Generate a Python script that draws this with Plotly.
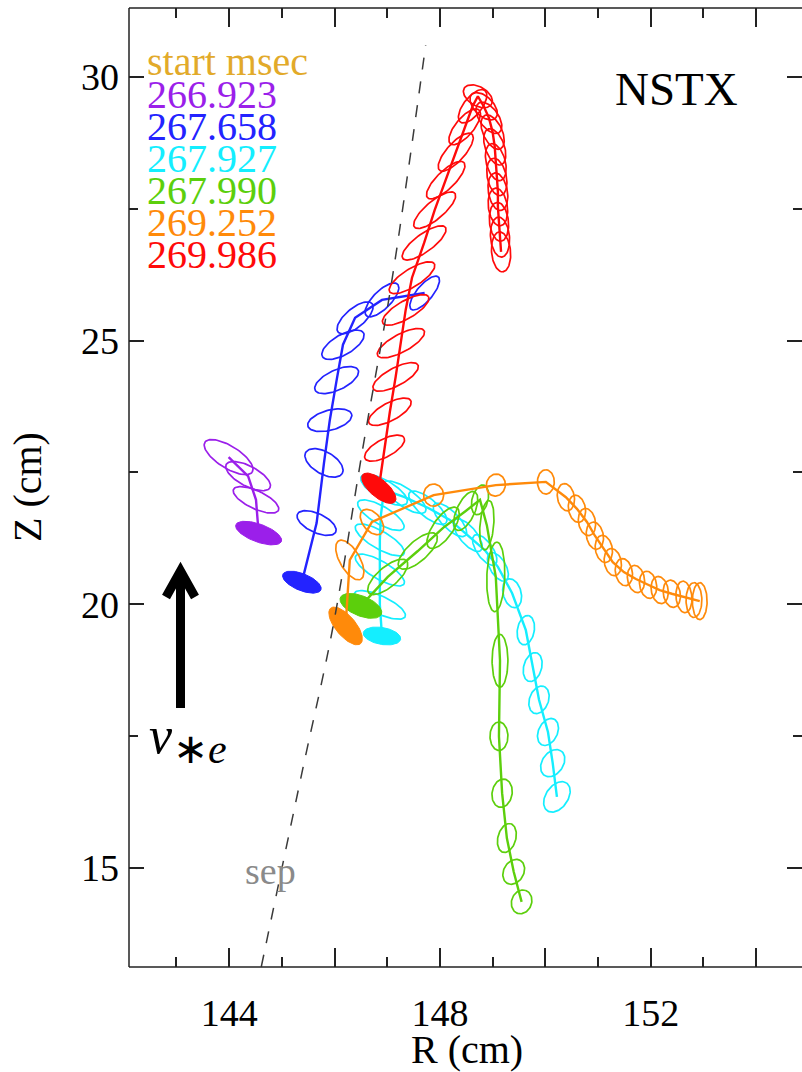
import numpy as np
import plotly.graph_objects as go

# ---------------- data (R, Z in cm; ellipse semi-axes a, b in cm; tilt in deg) ----------------
start_times = ["266.923", "267.658", "267.927", "267.990", "269.252", "269.986"]
series_colors = ["#9B1FEA", "#2323FF", "#14EEFF", "#5CCF0C", "#FF8A0A", "#FF0A0A"]

p_R = [144.56, 144.51, 144.36, 143.99]
p_Z = [21.35, 21.98, 22.43, 22.79]
p_a = [0.46, 0.47, 0.47, 0.53]
p_b = [0.17, 0.17, 0.19, 0.21]
p_ang = [-20, -25, -28, -32]

bl_R = [145.38, 145.66, 145.80, 145.91, 146.04, 146.16, 146.39, 146.90, 147.71]
bl_Z = [20.42, 21.54, 22.68, 23.49, 24.25, 24.92, 25.43, 25.77, 25.90]
bl_a = [0.39, 0.40, 0.40, 0.43, 0.45, 0.45, 0.42, 0.42, 0.40]
bl_b = [0.16, 0.18, 0.21, 0.19, 0.19, 0.19, 0.18, 0.17, 0.15]
bl_ang = [-22, -25, -30, 15, 25, 30, 40, 45, 50]

cy_R = [146.90, 146.86, 146.86, 146.86, 146.88, 146.94, 147.33, 147.77, 148.19, 148.53,
        148.85, 149.10, 149.37, 149.63, 149.76, 149.88, 150.05, 150.14, 150.22]
cy_Z = [19.40, 19.99, 20.65, 21.22, 21.69, 22.17, 22.03, 21.83, 21.60, 21.31,
        21.03, 20.71, 20.21, 19.51, 18.81, 18.19, 17.58, 16.99, 16.35]
cy_a = [0.36, 0.53, 0.53, 0.53, 0.50, 0.50, 0.48, 0.45, 0.42, 0.38,
        0.34, 0.30, 0.28, 0.28, 0.28, 0.27, 0.27, 0.28, 0.32]
cy_b = [0.16, 0.17, 0.17, 0.17, 0.17, 0.18, 0.17, 0.17, 0.16, 0.16,
        0.15, 0.15, 0.17, 0.16, 0.17, 0.18, 0.18, 0.20, 0.21]
cy_ang = [-10, -25, -30, -30, -30, -30, -35, -40, -45, -50,
          -55, -60, -75, 80, 75, 70, 65, 55, 55]

g_R = [146.50, 147.01, 147.58, 148.06, 148.49, 148.76, 148.89, 149.06, 149.14, 149.12, 149.18, 149.27, 149.40, 149.55]
g_Z = [19.97, 20.52, 21.01, 21.45, 21.77, 21.98, 21.50, 20.52, 18.93, 17.50, 16.42, 15.57, 14.93, 14.36]
g_a = [0.42, 0.47, 0.47, 0.46, 0.40, 0.29, 0.47, 0.66, 0.50, 0.27, 0.27, 0.28, 0.25, 0.23]
g_b = [0.19, 0.19, 0.19, 0.19, 0.17, 0.15, 0.13, 0.17, 0.15, 0.17, 0.19, 0.17, 0.19, 0.19]
g_ang = [-22, 40, 42, 55, 65, 75, 85, 88, 90, 90, 80, 75, 60, 70]

o_R = [146.21, 146.29, 146.71, 147.88, 149.06, 150.01, 150.39, 150.60, 150.79, 150.94,
       151.11, 151.28, 151.49, 151.72, 151.95, 152.17, 152.40, 152.63, 152.82, 152.93]
o_Z = [19.59, 20.84, 21.56, 22.07, 22.26, 22.32, 22.03, 21.81, 21.56, 21.30,
       21.05, 20.80, 20.61, 20.48, 20.37, 20.27, 20.20, 20.14, 20.08, 20.06]
o_a = [0.44, 0.42, 0.28, 0.21, 0.21, 0.23, 0.26, 0.26, 0.26, 0.26,
       0.26, 0.26, 0.26, 0.26, 0.26, 0.26, 0.26, 0.30, 0.33, 0.35]
o_b = [0.19, 0.19, 0.17, 0.19, 0.18, 0.16, 0.16, 0.16, 0.16, 0.16,
       0.16, 0.16, 0.16, 0.16, 0.16, 0.16, 0.16, 0.15, 0.15, 0.14]
o_ang = [-50, -60, -50, 90, 80, 90, 100, 100, 100, 100,
         100, 100, 100, 100, 100, 100, 100, 95, 90, 90]

rd_R = [146.84, 146.95, 147.05, 147.16, 147.26, 147.35, 147.47, 147.70, 147.90, 148.11, 148.30, 148.47, 148.62,
        148.72, 148.83, 148.93, 149.00, 149.04, 149.06, 149.08, 149.10, 149.10, 149.12, 149.14, 149.16]
rd_Z = [22.20, 22.96, 23.65, 24.31, 24.95, 25.58, 26.19, 26.85, 27.47, 28.04, 28.57, 29.05, 29.44,
        29.63, 29.44, 29.22, 28.95, 28.67, 28.38, 28.10, 27.82, 27.53, 27.25, 26.96, 26.68]
rd_a = [0.40, 0.42, 0.45, 0.48, 0.50, 0.50, 0.50, 0.50, 0.50, 0.48, 0.46, 0.42, 0.38,
        0.30, 0.32, 0.34, 0.35, 0.36, 0.36, 0.36, 0.36, 0.36, 0.37, 0.38, 0.38]
rd_b = [0.17, 0.17, 0.17, 0.17, 0.17, 0.17, 0.17, 0.17, 0.17, 0.17, 0.17, 0.17, 0.17,
        0.18, 0.18, 0.18, 0.18, 0.18, 0.18, 0.18, 0.18, 0.18, 0.18, 0.18, 0.18]
rd_ang = [-40, 28, 28, 28, 28, 30, 32, 36, 40, 44, 48, 50, 52,
          -30, -45, -55, -65, -70, -75, -78, -80, -82, -84, -85, -85]

sep_R = [144.61, 145.38, 145.97, 146.54, 147.05, 147.38, 147.73]
sep_Z = [13.13, 16.80, 19.57, 22.98, 25.90, 28.10, 30.60]

x_tickvals = [144, 146, 148, 150, 152, 154]
x_ticktext = ["144", "", "148", "", "152", ""]
y_tickvals = [15, 20, 25, 30]
y_ticktext = ["15", "20", "25", "30"]

series = [
    (p_R, p_Z, p_a, p_b, p_ang),
    (bl_R, bl_Z, bl_a, bl_b, bl_ang),
    (cy_R, cy_Z, cy_a, cy_b, cy_ang),
    (g_R, g_Z, g_a, g_b, g_ang),
    (o_R, o_Z, o_a, o_b, o_ang),
    (rd_R, rd_Z, rd_a, rd_b, rd_ang),
]

# ---------------- layout geometry ----------------
W, H = 802, 1072
ML, MR, MT, MB = 129, 0, 8, 105
PW, PH = W - ML - MR, H - MT - MB
X_RANGE = [142.10, 142.10 + PW / 52.7]
Y_RANGE = [31.454 - (H - MB) / 52.76, 31.454 - MT / 52.76]
SERIF = "Liberation Serif"


def ellipse(R, Z, a, b, ang, n=80):
    t = np.linspace(0, 2 * np.pi, n)
    th = np.deg2rad(ang)
    x = R + a * np.cos(th) * np.cos(t) - b * np.sin(th) * np.sin(t)
    y = Z + a * np.sin(th) * np.cos(t) + b * np.cos(th) * np.sin(t)
    return list(x), list(y)


fig = go.Figure()

for (R, Z, A, B, ANG), col in zip(series, series_colors):
    ex, ey = [], []
    for i in range(1, len(R)):
        x, y = ellipse(R[i], Z[i], A[i], B[i], ANG[i])
        ex += x + [None]
        ey += y + [None]
    fig.add_trace(go.Scatter(x=ex, y=ey, mode="lines", line=dict(color=col, width=1.7),
                             hoverinfo="skip", showlegend=False))
    fig.add_trace(go.Scatter(x=R, y=Z, mode="lines", line=dict(color=col, width=2.4),
                             hoverinfo="skip", showlegend=False))
    fx, fy = ellipse(R[0], Z[0], A[0], B[0], ANG[0])
    fig.add_trace(go.Scatter(x=fx, y=fy, mode="lines", fill="toself", fillcolor=col,
                             line=dict(color=col, width=1), hoverinfo="skip", showlegend=False))

fig.add_trace(go.Scatter(x=sep_R, y=sep_Z, mode="lines", line=dict(color="#3a3a3a", width=1.5, dash="12px,12px",
                         shape="spline"), hoverinfo="skip", showlegend=False))


def px2paper(x, y):
    return (x - ML) / PW, (H - MB - y) / PH


def text_ann(txt, xpx, base_py, size, color, xanchor="left", family=SERIF, bg=None):
    yb = base_py + 0.216 * size + 1
    xp, yp = px2paper(xpx, yb)
    d = dict(text=txt, x=xp, y=yp, xref="paper", yref="paper", xanchor=xanchor, yanchor="bottom",
             showarrow=False, font=dict(family=family, size=size, color=color), borderpad=0)
    if bg:
        d["bgcolor"] = bg
    return d


anns = []
anns.append(text_ann("start msec", 146, 75, 40, "#E2AA2A"))
for k, (t, col) in enumerate(zip(start_times, series_colors)):
    anns.append(text_ann(t, 146, 108.3 + 32.0 * k, 40, col))
anns.append(text_ann("NSTX", 676, 105, 47, "black", xanchor="center"))
anns.append(text_ann("R (cm)", 467, 1063, 40, "black", xanchor="center"))
anns.append(text_ann("sep", 270, 884, 38, "#8a8a8a", xanchor="center"))
anns.append(text_ann("<i>v</i>", 161, 753, 52, "black", xanchor="center"))
anns.append(text_ann("∗<i>e</i>", 172, 763, 42, "black", xanchor="left"))
zx, zy = px2paper(28, 487)
anns.append(dict(text="Z (cm)", x=zx, y=zy, xref="paper", yref="paper", xanchor="center", yanchor="middle",
                 textangle=-90, showarrow=False, font=dict(family=SERIF, size=40, color="black")))

shapes = []
LC = "#222222"
# frame spines (left, top, bottom)
shapes.append(dict(type="line", xref="paper", yref="paper", x0=0, x1=0, y0=0, y1=1, line=dict(color=LC, width=1.5)))
shapes.append(dict(type="line", xref="paper", yref="paper", x0=0, x1=1.02, y0=1, y1=1, line=dict(color=LC, width=1.5)))
shapes.append(dict(type="line", xref="paper", yref="paper", x0=0, x1=1.02, y0=0, y1=0, line=dict(color=LC, width=1.5)))
# v_*e arrow
ax0, ay0 = px2paper(180.5, 708)
ax1, ay1 = px2paper(180.5, 576)
shapes.append(dict(type="line", xref="paper", yref="paper", x0=ax0, y0=ay0, x1=ax1, y1=ay1,
                   line=dict(color="black", width=9)))
h1 = px2paper(166, 597)
h2 = px2paper(180.5, 571)
h3 = px2paper(195, 597)
shapes.append(dict(type="path", xref="paper", yref="paper",
                   path=f"M {h1[0]} {h1[1]} L {h2[0]} {h2[1]} L {h3[0]} {h3[1]}",
                   line=dict(color="black", width=9)))

axis_common = dict(showgrid=False, zeroline=False, showline=False, mirror="ticks", ticks="inside",
                   tickcolor=LC, tickwidth=1.5, tickfont=dict(family=SERIF, size=38, color="black"))

fig.update_layout(
    width=W, height=H, margin=dict(l=ML, r=MR, t=MT, b=MB),
    paper_bgcolor="white", plot_bgcolor="white",
    xaxis=dict(range=X_RANGE, tickmode="array", tickvals=x_tickvals, ticktext=x_ticktext, ticklen=19,
               ticklabelstandoff=20,
               minor=dict(ticks="inside", ticklen=10, tickwidth=1.5, tickcolor=LC, dtick=1, tick0=142),
               **axis_common),
    yaxis=dict(range=Y_RANGE, tickmode="array", tickvals=y_tickvals, ticktext=y_ticktext, ticklen=15,
               ticklabelstandoff=9,
               minor=dict(ticks="inside", ticklen=9, tickwidth=1.5, tickcolor=LC, dtick=2.5, tick0=0),
               **axis_common),
    annotations=anns, shapes=shapes, showlegend=False,
)

fig.write_html("out.html")
